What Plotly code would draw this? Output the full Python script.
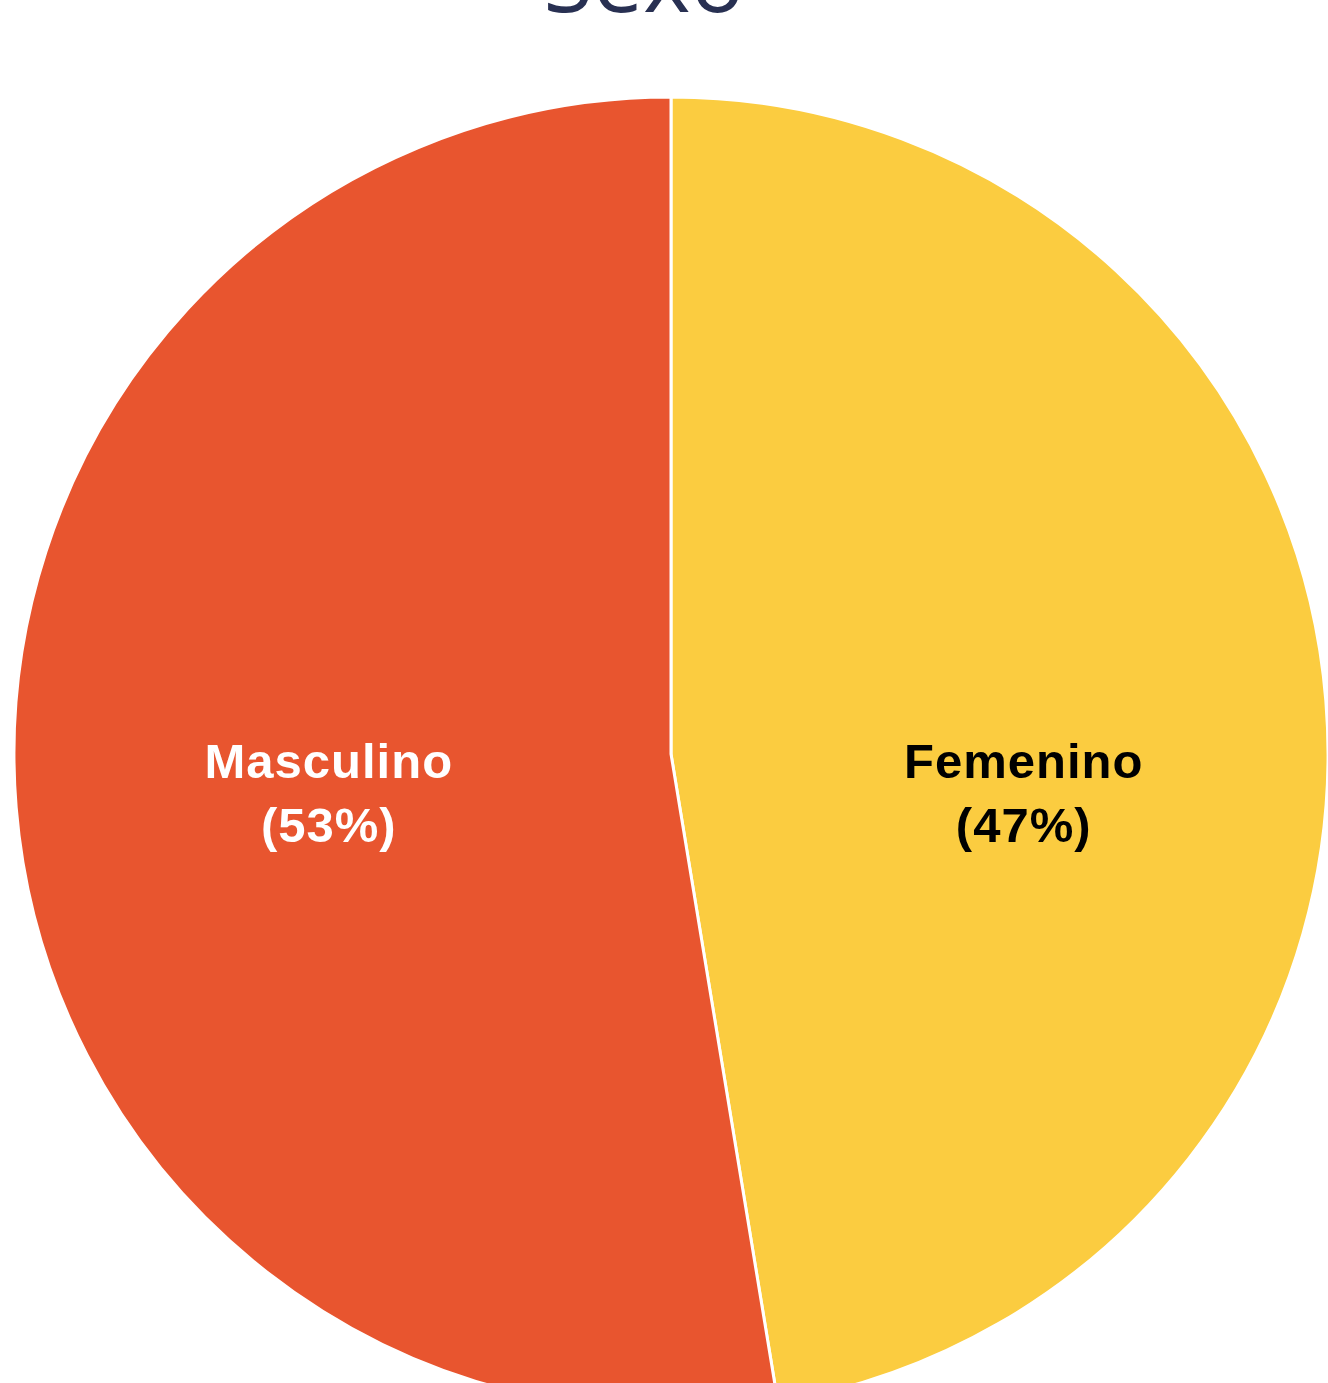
import math
import plotly.graph_objects as go

labels = ["Femenino", "Masculino"]
values = [47.4, 52.6]
colors = ["#FBCC40", "#E8552F"]
text_colors = ["#000000", "#FFFFFF"]
title_text = "Sexo"

W = 1328
ML, MR, MT = 14, 0, 97
PLOT_W = W - ML - MR
PLOT_H = PLOT_W
H = MT + PLOT_H

fig = go.Figure(go.Pie(
    labels=labels,
    values=values,
    sort=False,
    direction="clockwise",
    rotation=0,
    marker=dict(colors=colors, line=dict(color="#FFFFFF", width=3)),
    textinfo="none",
    hoverinfo="label+percent",
    showlegend=False,
))

# label placement derived from each slice's mid-angle (clockwise from top)
total = sum(values)
r_px = PLOT_W / 2
label_frac = 0.53
shift_px = 5
drop_px = 39
cum = 0.0
for lab, val, tc in zip(labels, values, text_colors):
    mid = (cum + val / 2) / total * 2 * math.pi
    cum += val
    x_paper = 0.5 + (label_frac * r_px * math.sin(mid) + shift_px) / PLOT_W
    y_paper = 0.5 - drop_px / PLOT_H
    fig.add_annotation(
        x=x_paper, y=y_paper, xref="paper", yref="paper",
        text=f"{lab}<br>({round(val / total * 100)}%)",
        showarrow=False, xanchor="center", yanchor="middle", align="center",
        font=dict(family="Liberation Sans, Arial, sans-serif", size=49,
                  color=tc, weight="bold"),
    )

fig.update_layout(
    width=W, height=H,
    margin=dict(l=ML, r=MR, t=MT, b=0),
    paper_bgcolor="#FFFFFF",
    plot_bgcolor="#FFFFFF",
    title=dict(text=title_text, x=644 / W, xanchor="center",
               yref="container", y=1 - 12 / H, yanchor="bottom",
               font=dict(family="Open Sans, sans-serif", size=90, color="#283052")),
)

post = """
document.documentElement.style.overflow='hidden';
document.body.style.overflow='hidden';
document.body.style.margin='0';
var st=document.createElement('style');
st.textContent='.annotation-text{letter-spacing:1px;}';
document.head.appendChild(st);
"""

fig.write_html("out.html", post_script=post, config={"displayModeBar": False})
